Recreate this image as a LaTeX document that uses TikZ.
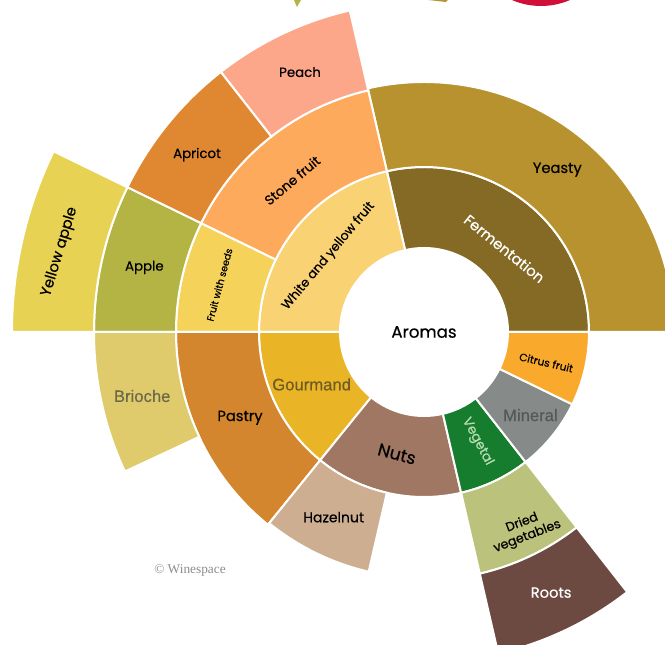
\documentclass[tikz,border=0pt]{standalone}
\usepackage{fontspec}
\setmainfont{Poppins}[FakeBold=0.5]
\newfontfamily\plainsans{Liberation Sans}[FakeBold=0.3]
\newfontfamily\plainserif{Liberation Serif}
\usepackage{xcolor}
\usepackage{tikz}
\definecolor{fermcol}{RGB}{132, 106, 36}
\definecolor{yeastcol}{RGB}{184, 146, 47}
\definecolor{wyfruitcol}{RGB}{249, 210, 116}
\definecolor{stonecol}{RGB}{253, 170, 92}
\definecolor{seedscol}{RGB}{245, 210, 90}
\definecolor{peachcol}{RGB}{252, 166, 138}
\definecolor{apricotcol}{RGB}{224, 135, 49}
\definecolor{applecol}{RGB}{179, 180, 67}
\definecolor{yapplecol}{RGB}{231, 210, 83}
\definecolor{gourmcol}{RGB}{233, 180, 38}
\definecolor{pastrycol}{RGB}{211, 134, 46}
\definecolor{briochecol}{RGB}{223, 203, 107}
\definecolor{nutscol}{RGB}{160, 119, 98}
\definecolor{hazelcol}{RGB}{205, 174, 144}
\definecolor{vegcol}{RGB}{22, 124, 46}
\definecolor{driedcol}{RGB}{186, 194, 124}
\definecolor{rootscol}{RGB}{108, 74, 66}
\definecolor{mineralcol}{RGB}{134, 138, 136}
\definecolor{citruscol}{RGB}{249, 169, 44}
\definecolor{crimson}{RGB}{208, 16, 58}
\usetikzlibrary{positioning, calc}

% one ring piece: fill, start angle, end angle, inner radius, outer radius
\newcommand{\sunslice}[5]{%
  \filldraw[slice, fill=#1] (#2:#4) arc[start angle=#2, end angle=#3, radius=#4]
    -- (#3:#5) arc[start angle=#3, end angle=#2, radius=#5] -- cycle;}

\begin{document}
\begin{tikzpicture}[
    x=0.75pt, y=0.75pt,
    slice/.style={draw=white, line width=1.5pt},
    lbl/.style={font=\fontsize{10}{12}\selectfont, inner sep=1pt, align=center},
    small/.style={font=\fontsize{8}{9.5}\selectfont, inner sep=1pt, align=center},
    grey/.style={font=\plainsans\fontsize{12.5}{14}\selectfont, inner sep=1pt}
]
    \useasboundingbox (-424,-313) rectangle (241,332);

    % bits of the next chart
    \fill[crimson] (117,399) circle (73);
    \fill[applecol] (-130,332) -- (-123,332) -- (-127,325) -- cycle;
    \fill[yeastcol] (4,332) -- (24,332) -- (22,330) -- cycle;

    % fermentation
    \sunslice{fermcol}{0}{103}{84}{165}
    \sunslice{yeastcol}{0}{103}{165}{250}

    % white and yellow fruit
    \sunslice{wyfruitcol}{103}{180}{84}{165}
    \sunslice{stonecol}{103}{154}{165}{248}
    \sunslice{seedscol}{154}{180}{165}{248}
    \sunslice{peachcol}{103}{128}{248}{330}
    \sunslice{apricotcol}{128}{154}{248}{330}
    \sunslice{applecol}{154}{180}{248}{330}
    \sunslice{yapplecol}{154}{180}{330}{412}

    % gourmand
    \sunslice{gourmcol}{180}{231}{84}{165}
    \sunslice{pastrycol}{180}{231}{165}{248}
    \sunslice{briochecol}{180}{205}{248}{330}

    % nuts
    \sunslice{nutscol}{231}{283}{84}{165}
    \sunslice{hazelcol}{231}{257}{165}{246}

    % vegetal
    \sunslice{vegcol}{283}{308}{84}{165}
    \sunslice{driedcol}{283}{308}{165}{248}
    \sunslice{rootscol}{283}{308}{248}{330}

    % mineral and citrus
    \sunslice{mineralcol}{308}{334}{84}{165}
    \sunslice{citruscol}{334}{360}{84}{165}

    % Labels
    \node[lbl, font=\fontsize{12.5}{15}\selectfont] (aromas) at (0,0) {Aromas};
    \node[lbl, text=white, font=\fontsize{11}{13}\selectfont] (ferm) at (46:116) [rotate=-39] {Fermentation};
    \node[lbl, font=\fontsize{11}{13}\selectfont] (yeasty) at (50.6:210) {Yeasty};
    \node[lbl, font=\fontsize{9.5}{11}\selectfont] (wyfruit) at (141.5:122) [rotate=50] {White and yellow fruit};
    \node[lbl] (stone) at (131:201) [rotate=40] {Stone fruit};
    \node[small, font=\fontsize{7.3}{9}\selectfont] (seeds) at (167:210) [rotate=75] {Fruit with seeds};
    \node[lbl] (peach) at (115.5:288) {Peach};
    \node[lbl] (apricot) at (142:288) {Apricot};
    \node[lbl] (apple) at (167:287) {Apple};
    \node[lbl, font=\fontsize{11}{13}\selectfont] (yapple) at (167.6:373) [rotate=73] {Yellow apple};
    \node[grey, text={rgb,255:red,110;green,92;blue,34}] (gourmand) at (205:124) {Gourmand};
    \node[lbl, font=\fontsize{11}{13}\selectfont] (pastry) at (205:203) {Pastry};
    \node[grey, text={rgb,255:red,106;green,106;blue,74}] (brioche) at (192.8:289) {Brioche};
    \node[lbl, font=\fontsize{13}{15}\selectfont] (nuts) at (257.5:125) [rotate=-15] {Nuts};
    \node[lbl, font=\fontsize{10.5}{12}\selectfont] (hazelnut) at (244:206) {Hazelnut};
    \node[lbl, text={rgb,255:red,181;green,221;blue,176}] (vegetal) at (296:122) [rotate=-62] {Vegetal};
    \node[grey, text={rgb,255:red,85;green,88;blue,90}] (mineral) at (322:135) {Mineral};
    \node[small] (citrus) at (346:126) [rotate=-13] {Citrus fruit};
    \node[lbl, font=\fontsize{9.5}{11}\selectfont] (dried) at (297:222) [rotate=21] {Dried\\vegetables};
    \node[lbl, text=white, font=\fontsize{11}{13}\selectfont] (roots) at (296:290) {Roots};
    \node[font=\plainserif\fontsize{10}{12}\selectfont, text=black!45] (winespace) at (-234,-238) {\textcopyright{} Winespace};
\end{tikzpicture}
\end{document}
